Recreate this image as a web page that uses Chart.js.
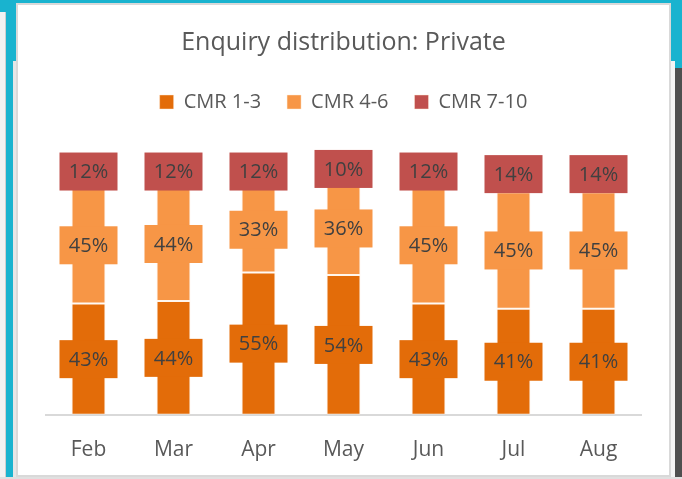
<!DOCTYPE html>
<html>
<head>
<meta charset="utf-8">
<script src="https://cdn.jsdelivr.net/npm/chart.js@4/dist/chart.umd.min.js"></script>
<style>
  html, body { margin: 0; padding: 0; }
  body { width: 682px; height: 479px; background: #19b3cf; position: relative; overflow: hidden; }
  .blk { position: absolute; }
  #card { left: 16px; top: 3px; width: 651px; height: 470px; background: #fff; border: 2px solid #d9d9d9; }
  #wrap { position: absolute; left: 0; top: 0; width: 682px; height: 479px; }
</style>
</head>
<body>
<!-- page bits around the chart card -->
<div class="blk" style="left:0;top:12px;width:5px;height:467px;background:#f2f2f2;border-right:1px solid #cfcfcf"></div>
<div class="blk" style="left:13px;top:61px;width:3px;height:418px;background:#e6e6e6"></div>
<div class="blk" style="left:671px;top:61px;width:4px;height:418px;background:#f4f4f4"></div>
<div class="blk" style="left:675px;top:68px;width:7px;height:411px;background:#4f4f4f"></div>
<div class="blk" style="left:0;top:477px;width:682px;height:2px;background:#e0e0e0"></div>
<div class="blk" id="card"></div>

<div id="wrap"><canvas id="chart"></canvas></div>

<script>
const months = ['Feb', 'Mar', 'Apr', 'May', 'Jun', 'Jul', 'Aug'];
const cmr13 = [43, 44, 55, 54, 43, 41, 41];
const cmr46 = [45, 44, 33, 36, 45, 45, 45];
const cmr710 = [12, 12, 12, 10, 12, 14, 14];

const colors = ['#e36c09', '#f79646', '#c0504d'];
const FONT = "'Open Sans', sans-serif";

// label boxes in the segment colour, centred on each segment
const boxLabels = {
  id: 'boxLabels',
  afterDatasetsDraw(chart) {
    const ctx = chart.ctx;
    ctx.save();
    ctx.font = '20px ' + FONT;
    ctx.textAlign = 'center';
    ctx.textBaseline = 'middle';
    chart.data.datasets.forEach((ds, i) => {
      const meta = chart.getDatasetMeta(i);
      meta.data.forEach((bar, j) => {
        const p = bar.getProps(['x', 'y', 'base'], true);
        const cy = (p.y + p.base) / 2;
        ctx.fillStyle = ds.backgroundColor;
        ctx.fillRect(p.x - 29, cy - 19, 58, 38);
        ctx.fillStyle = '#404040';
        ctx.fillText(ds.data[j] + '%', p.x, cy + 1);
      });
    });
    ctx.restore();
  }
};

// extra room under the legend
const legendGap = {
  id: 'legendGap',
  beforeInit(chart) {
    const fit = chart.legend.fit;
    chart.legend.fit = function () {
      fit.bind(chart.legend)();
      this.height += 34;
    };
  }
};

new Chart(document.getElementById('chart'), {
  type: 'bar',
  data: {
    labels: months,
    datasets: [
      { label: 'CMR 1-3', data: cmr13, backgroundColor: colors[0] },
      { label: 'CMR 4-6', data: cmr46, backgroundColor: colors[1] },
      { label: 'CMR 7-10', data: cmr710, backgroundColor: colors[2] },
    ]
  },
  options: {
    responsive: true,
    maintainAspectRatio: false,
    animation: false,
    layout: { padding: { left: 46, right: 41, top: 0, bottom: -7 } },
    datasets: {
      bar: {
        categoryPercentage: 1,
        barPercentage: 0.4,
        borderColor: 'rgba(255,235,215,0.45)',
        borderWidth: 1,
        borderSkipped: false
      }
    },
    scales: {
      x: {
        stacked: true,
        grid: { display: false, drawTicks: false },
        border: { display: true, color: '#d9d9d9', width: 2 },
        ticks: { color: '#595959', font: { family: FONT, size: 21 }, padding: 23 }
      },
      y: {
        stacked: true,
        min: 0,
        max: 100,
        display: false
      }
    },
    plugins: {
      title: {
        display: true,
        text: 'Enquiry distribution: Private',
        color: '#595959',
        font: { family: FONT, size: 25, weight: 'normal' },
        padding: { top: 28, bottom: 8 }
      },
      legend: {
        position: 'top',
        labels: {
          color: '#595959',
          font: { family: FONT, size: 20 },
          boxWidth: 14,
          boxHeight: 14,
          padding: 26
        }
      },
      tooltip: { enabled: false }
    }
  },
  plugins: [boxLabels, legendGap]
});
</script>
</body>
</html>
